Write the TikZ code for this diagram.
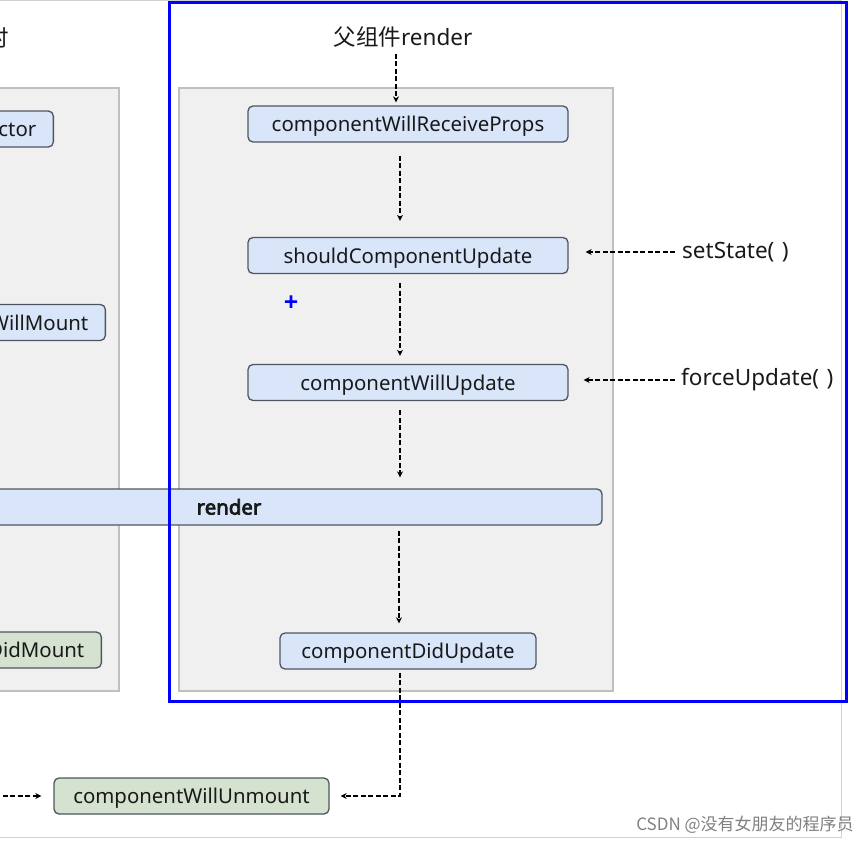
\documentclass[tikz,border=0pt]{standalone}
\usepackage{fontspec}
\setmainfont{Noto Sans}
\newfontfamily\heavy{Noto Sans}[FakeBold=3.5]
\newfontfamily\cjk{Noto Sans CJK SC}
\usetikzlibrary{arrows.meta}
\definecolor{boxblue}{HTML}{D9E6FA}
\definecolor{boxgreen}{HTML}{D5E2D0}
\definecolor{panelgray}{HTML}{F0F0F0}
\definecolor{edgegray}{HTML}{4F5560}
\tikzset{
  hook/.style={draw=edgegray,line width=1.3pt,rounded corners=5pt,fill=boxblue,
    minimum height=36pt,inner ysep=0pt,inner xsep=17pt,text height=15pt,text depth=0pt,
    font=\fontsize{20.4}{24}\selectfont,text=black!90},
  mounted/.style={hook,fill=boxgreen},
  panel/.style={draw=black!25,line width=1.5pt,fill=panelgray},
  flow/.style={draw=black,line width=1.8pt,dash pattern=on 5pt off 2.5pt,
    -{Stealth[length=6pt,width=6pt]}},
  caller/.style={font=\fontsize{22.5}{26}\selectfont,inner sep=0pt,text=black!90},
}
\begin{document}
\begin{tikzpicture}[x=1pt,y=-1pt]
\useasboundingbox (0,0) rectangle (868,843);
\draw[black!18,line width=1pt] (0,1) -- (841,1) -- (841,837) -- (0,837);
\filldraw[panel] (-40,88) rectangle (119,691);
\filldraw[panel] (179,88) rectangle (613,691);
% mount side, cut off at the left edge
\node[caller,anchor=east] (mounttitle) at (9,38) {{\cjk 挂载时}};
\node[hook,anchor=east] (ctor) at (54,129) {constructor};
\node[hook,anchor=east] (cwm) at (106,322.5) {componentWillMount};
\node[mounted,anchor=east] (cdm) at (102,650) {componentDidMount};
\node[hook,minimum width=746pt,font=\heavy\fontsize{20.4}{24}\selectfont] (render) at (229,507) {render};
% update side
\node[caller] (parent) at (403,37) {{\cjk 父组件}render};
\node[hook,minimum width=320pt] (wrp) at (408,124) {componentWillReceiveProps};
\node[hook,minimum width=320pt] (scu) at (408,255.5) {shouldComponentUpdate};
\node[hook,minimum width=320pt] (cwup) at (408,382.5) {componentWillUpdate};
\node[hook,minimum width=256pt] (cdu) at (408,651) {componentDidUpdate};
\node[mounted,minimum width=275pt] (cwu) at (191.5,796) {componentWillUnmount};
\node[caller,anchor=west] (setstate) at (682,252) {setState(\,\,)};
\node[caller,anchor=west] (force) at (681,380) {forceUpdate(\,\,)};
\node[text=blue,font=\heavy\fontsize{24}{24}\selectfont,inner sep=0pt] (cursor) at (291,303) {+};
\coordinate (unmountin) at (-5,796);
\draw[flow,shorten <=6pt,shorten >=3pt] ([xshift=-7pt]parent.south) -- ([xshift=-12pt]wrp.north);
\draw[flow,shorten <=13pt,shorten >=16pt] ([xshift=-8pt]wrp.south) -- ([xshift=-8pt]scu.north);
\draw[flow,shorten <=9pt,shorten >=8pt] ([xshift=-8pt]scu.south) -- ([xshift=-8pt]cwup.north);
\draw[flow,shorten <=9pt,shorten >=11pt] ([xshift=-8pt]cwup.south) -- ([xshift=-8pt]cwup.south |- render.north);
\draw[flow,shorten <=5pt,shorten >=9pt] ([xshift=-9pt]cdu.north |- render.south) -- ([xshift=-9pt]cdu.north);
\draw[flow,shorten <=3pt,shorten >=11pt] ([xshift=-8pt]cdu.south) |- (cwu.east);
\draw[flow,shorten <=7pt,shorten >=17pt] (setstate.west) -- (setstate.west -| scu.east);
\draw[flow,shorten <=6pt,shorten >=15pt] (force.west) -- (force.west -| cwup.east);
\draw[flow,shorten >=12pt] (unmountin) -- (cwu.west);
\draw[blue,line width=3pt] (169,3) rectangle (846,701);
\node[text=black!50,font=\cjk\fontsize{17}{17}\selectfont,inner sep=0pt] (mark) at (745,825) {CSDN @没有女朋友的程序员};
\end{tikzpicture}
\end{document}
